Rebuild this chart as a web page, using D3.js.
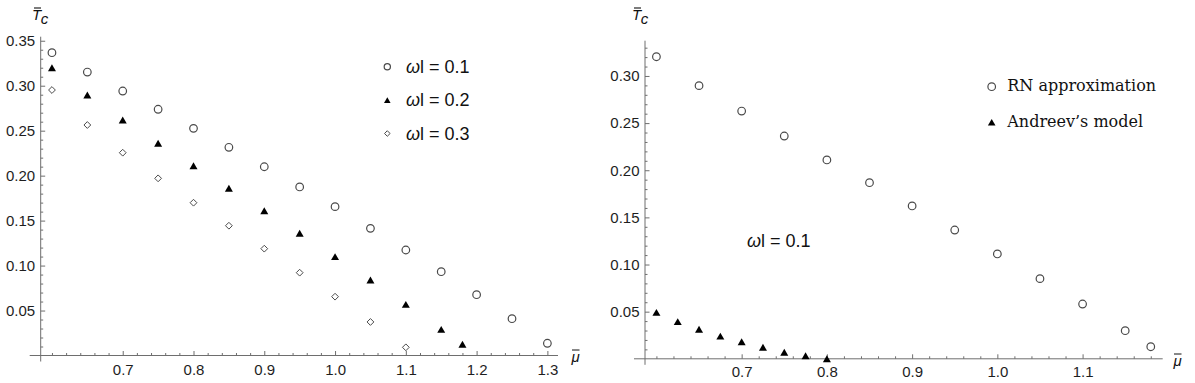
<!DOCTYPE html>
<html>
<head>
<meta charset="utf-8">
<script src="https://cdn.jsdelivr.net/npm/d3@7"></script>
<style>
  body { margin: 0; background: #fff; }
  svg { display: block; }
  .tick text { font-family: 'Liberation Sans', Arial, sans-serif; font-size: 15px; fill: #1e1e1e; }
  .tick line { stroke: #6e6e6e; }
</style>
</head>
<body>
<script>
// left panel data (omega*l = 0.1, 0.2, 0.3)
const muA = [0.6, 0.65, 0.7, 0.75, 0.8, 0.85, 0.9, 0.95, 1.0, 1.05, 1.1, 1.15, 1.2, 1.25, 1.3];
const tcA = [0.3367, 0.3152, 0.2941, 0.2738, 0.2526, 0.2315, 0.2099, 0.1874, 0.1655, 0.1414, 0.1173, 0.0932, 0.0676, 0.0409, 0.0136];
const muB = [0.6, 0.65, 0.7, 0.75, 0.8, 0.85, 0.9, 0.95, 1.0, 1.05, 1.1, 1.15, 1.18];
const tcB = [0.320, 0.2897, 0.2619, 0.236, 0.211, 0.186, 0.161, 0.1359, 0.1099, 0.084, 0.0569, 0.0291, 0.0125];
const muC = [0.6, 0.65, 0.7, 0.75, 0.8, 0.85, 0.9, 0.95, 1.0, 1.05, 1.1];
const tcC = [0.2952, 0.2563, 0.2255, 0.197, 0.1699, 0.1443, 0.1188, 0.0921, 0.0654, 0.0373, 0.0091];
const legendLeft = ['0.1', '0.2', '0.3'];

// right panel data
const muRN = [0.6, 0.65, 0.7, 0.75, 0.8, 0.85, 0.9, 0.95, 1.0, 1.05, 1.1, 1.15, 1.18];
const tcRN = [0.3204, 0.2897, 0.2628, 0.2363, 0.2109, 0.1868, 0.1621, 0.1366, 0.1112, 0.085, 0.0581, 0.0298, 0.0128];
const muAnd = [0.6, 0.625, 0.65, 0.675, 0.7, 0.725, 0.75, 0.775, 0.8];
const tcAnd = [0.0492, 0.0394, 0.0313, 0.0241, 0.0181, 0.0122, 0.0069, 0.0033, 0.0];
const legendRight = ['RN approximation', 'Andreev\u2019s model'];

// ticks
const xTicksL = [0.7, 0.8, 0.9, 1.0, 1.1, 1.2, 1.3];
const yTicksL = [0.05, 0.10, 0.15, 0.20, 0.25, 0.30, 0.35];
const xTicksR = [0.7, 0.8, 0.9, 1.0, 1.1];
const yTicksR = [0.05, 0.10, 0.15, 0.20, 0.25, 0.30];

const svg = d3.select('body').append('svg').attr('width', 1195).attr('height', 383);

// marker shapes, centred on their bounding box like Mathematica does
const triType = { draw(ctx, size) {
  const w = Math.sqrt(size), h = w * 0.86;
  ctx.moveTo(0, -h / 2); ctx.lineTo(w / 2, h / 2); ctx.lineTo(-w / 2, h / 2); ctx.closePath();
} };
const diaType = { draw(ctx, size) {
  const r = Math.sqrt(size) / 2;
  ctx.moveTo(0, -r); ctx.lineTo(r, 0); ctx.lineTo(0, r); ctx.lineTo(-r, 0); ctx.closePath();
} };

function marker(g, kind, x, y, scale) {
  const s = scale || 1;
  if (kind === 'circle') {
    g.append('circle').attr('cx', x).attr('cy', y).attr('r', 3.8 * s)
      .attr('fill', '#fff').attr('stroke', '#4a4a4a').attr('stroke-width', 1.2);
  } else if (kind === 'tri') {
    g.append('path').attr('transform', `translate(${x},${y})`)
      .attr('d', d3.symbol().type(triType).size(64 * s * s)()).attr('fill', '#000');
  } else {
    g.append('path').attr('transform', `translate(${x},${y})`)
      .attr('d', d3.symbol().type(diaType).size(46 * s * s)())
      .attr('fill', '#fff').attr('stroke', '#4a4a4a').attr('stroke-width', 1);
  }
}

function axes(g, x, y, xt, yt, xPad) {
  const x0 = y(0);
  const minorX = d3.range(0.6, x.domain()[1], 0.02).map(v => +v.toFixed(2)).filter(v => !xt.some(t => Math.abs(t - v) < 1e-6));
  const minorY = d3.range(0.01, y.domain()[1], 0.01).map(v => +v.toFixed(2)).filter(v => !yt.some(t => Math.abs(t - v) < 1e-6));
  // axis lines
  g.append('line').attr('x1', x.range()[0] - 11).attr('x2', x.range()[1])
    .attr('y1', x0).attr('y2', x0).attr('stroke', '#6e6e6e').attr('stroke-width', 1);
  g.append('line').attr('x1', x.range()[0]).attr('x2', x.range()[0])
    .attr('y1', y.range()[1]).attr('y2', x0 + 6).attr('stroke', '#6e6e6e').attr('stroke-width', 1);
  // major and minor ticks
  g.append('g').attr('transform', `translate(0,${x0})`)
    .call(d3.axisBottom(x).tickValues(xt).tickFormat(d3.format('.1f')).tickSizeInner(-4.5).tickSizeOuter(0).tickPadding(xPad))
    .call(a => a.select('.domain').remove());
  g.append('g').attr('transform', `translate(0,${x0})`)
    .call(d3.axisBottom(x).tickValues(minorX).tickFormat('').tickSizeInner(-2.5).tickSizeOuter(0))
    .call(a => a.select('.domain').remove());
  g.append('g').attr('transform', `translate(${x.range()[0]},0)`)
    .call(d3.axisLeft(y).tickValues(yt).tickFormat(d3.format('.2f')).tickSizeInner(-4.5).tickSizeOuter(0).tickPadding(5.5))
    .call(a => a.select('.domain').remove());
  g.append('g').attr('transform', `translate(${x.range()[0]},0)`)
    .call(d3.axisLeft(y).tickValues(minorY).tickFormat('').tickSizeInner(-2.5).tickSizeOuter(0))
    .call(a => a.select('.domain').remove());
}

function axisLabels(g, tx, ty, mx, my) {
  const f = "'Liberation Sans', Arial, sans-serif";
  const t = g.append('text').attr('x', tx).attr('y', ty)
    .attr('font-family', f).attr('font-style', 'italic').attr('font-size', 15).attr('fill', '#111');
  t.append('tspan').text('T');
  t.append('tspan').attr('dy', 4).attr('font-size', 15).attr('dx', 1).text('c');
  g.append('line').attr('x1', tx + 2).attr('x2', tx + 9).attr('y1', ty - 12).attr('y2', ty - 12)
    .attr('stroke', '#111').attr('stroke-width', 1.1);
  g.append('text').attr('x', mx).attr('y', my).attr('font-family', f).attr('font-style', 'italic')
    .attr('font-size', 15).attr('fill', '#111').text('\u03bc');
  g.append('line').attr('x1', mx + 0.5).attr('x2', mx + 8).attr('y1', my - 12).attr('y2', my - 12)
    .attr('stroke', '#111').attr('stroke-width', 1);
}

function omegaText(g, x, y, val) {
  const t = g.append('text').attr('x', x).attr('y', y)
    .attr('font-family', "'Liberation Sans', Arial, sans-serif").attr('font-size', 18).attr('fill', '#111');
  t.append('tspan').attr('font-style', 'italic').text('\u03c9');
  t.append('tspan').text('l = ' + val);
}

// ---------- left panel ----------
const xL = d3.scaleLinear().domain([0.5841, 1.315]).range([40.7, 558]);
const yL = d3.scaleLinear().domain([0, 0.3545]).range([355.5, 36.7]);
const gL = svg.append('g');
axes(gL, xL, yL, xTicksL, yTicksL, 9);
axisLabels(gL, 32, 20, 571.5, 362);

muA.forEach((m, i) => marker(gL, 'circle', xL(m), yL(tcA[i])));
muB.forEach((m, i) => marker(gL, 'tri', xL(m), yL(tcB[i])));
muC.forEach((m, i) => marker(gL, 'dia', xL(m), yL(tcC[i])));

const kinds = ['circle', 'tri', 'dia'];
legendLeft.forEach((v, i) => {
  const yy = 66.7 + i * 33.4;
  marker(gL, kinds[i], 387.3, yy, 0.82);
  omegaText(gL, 406, yy + 6.3, v);
});

// ---------- right panel ----------
const xR = d3.scaleLinear().domain([0.5866, 1.194]).range([645, 1162.7]);
const yR = d3.scaleLinear().domain([0, 0.3374]).range([358.8, 40.7]);
const gR = svg.append('g');
axes(gR, xR, yR, xTicksR, yTicksR, 8);
axisLabels(gR, 632, 20, 1173.5, 366);

muRN.forEach((m, i) => marker(gR, 'circle', xR(m), yR(tcRN[i])));
muAnd.forEach((m, i) => marker(gR, 'tri', xR(m), yR(tcAnd[i])));

omegaText(gR, 747, 246.7, '0.1');

legendRight.forEach((v, i) => {
  const yy = [86.7, 122.3][i];
  marker(gR, i === 0 ? 'circle' : 'tri', 991.7, yy, i === 0 ? 1 : 0.95);
  gR.append('text').attr('x', 1007.3).attr('y', yy + 4.5)
    .attr('font-family', "'DejaVu Serif', 'Liberation Serif', serif").attr('font-size', 16).attr('fill', '#111')
    .text(v);
});
</script>
</body>
</html>
